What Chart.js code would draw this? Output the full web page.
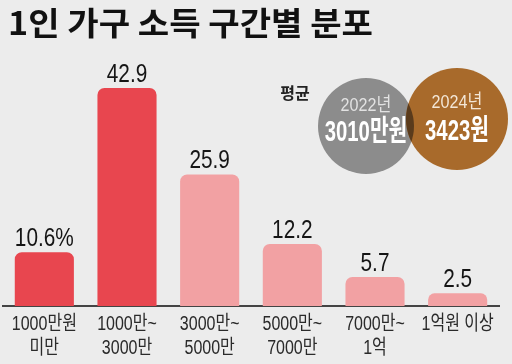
<!DOCTYPE html>
<html>
<head>
<meta charset="utf-8">
<script src="https://cdn.jsdelivr.net/npm/chart.js@4.4.1/dist/chart.umd.min.js"></script>
<style>
  html, body { margin: 0; padding: 0; background: #ececec; }
  #wrap { width: 512px; height: 364px; position: relative; }
</style>
</head>
<body>
<div id="wrap"><canvas id="c"></canvas></div>
<script>
// data
const titleText = '1인 가구 소득 구간별 분포';
const categories = [
  ['1000만원', '미만'],
  ['1000만~', '3000만'],
  ['3000만~', '5000만'],
  ['5000만~', '7000만'],
  ['7000만~', '1억'],
  ['1억원 이상']
];
const shares = [10.6, 42.9, 25.9, 12.2, 5.7, 2.5];
const shareLabels = ['10.6%', '42.9', '25.9', '12.2', '5.7', '2.5'];
const avgTitle = '평균';
const avgYears = ['2022년', '2024년'];
const avgIncome = ['3010만원', '3423원'];

var RED = '#e8464f';
var PINK = '#f2a1a3';
var SANS = "'Liberation Sans', 'Noto Sans CJK KR', sans-serif";

// squeezed text, the original uses a condensed face
function squeezed(ctx, txt, x, y, font, color, sx, base) {
  ctx.save();
  ctx.font = font;
  ctx.fillStyle = color;
  ctx.textAlign = 'center';
  ctx.textBaseline = base || 'middle';
  ctx.translate(x, y);
  ctx.scale(sx, 1);
  ctx.fillText(txt, 0, 0);
  ctx.restore();
}

var extras = {
  id: 'extras',
  afterDraw: function(chart) {
    var ctx = chart.ctx;
    // title
    ctx.save();
    ctx.font = "bold 32px 'Noto Sans CJK KR', sans-serif";
    ctx.fillStyle = '#111';
    ctx.textBaseline = 'middle';
    var w = ctx.measureText(titleText).width;
    ctx.translate(8, 23);
    ctx.scale(365 / w, 1);
    ctx.fillText(titleText, 0, 0);
    ctx.restore();

    // bar values
    var meta = chart.getDatasetMeta(0);
    meta.data.forEach(function(bar, i) {
      squeezed(ctx, shareLabels[i], bar.x, bar.y - 6, '26px ' + SANS, '#151515', 0.8, 'alphabetic');
    });

    // category labels under the axis
    var xs = chart.scales.x;
    var base = chart.chartArea.bottom;
    categories.forEach(function(lines, i) {
      var x = xs.getPixelForTick(i);
      lines.forEach(function(t, j) {
        squeezed(ctx, t, x, base + 18 + j * 24, '20px ' + SANS, '#2a2a2a', 0.8);
      });
    });

    // average circles
    var g = {x: 366, y: 126, r: 48};
    var b = {x: 457, y: 119, r: 51};
    ctx.save();
    ctx.fillStyle = '#8c8c8c';
    ctx.beginPath(); ctx.arc(g.x, g.y, g.r, 0, Math.PI * 2); ctx.fill();
    ctx.fillStyle = '#a86a2b';
    ctx.beginPath(); ctx.arc(b.x, b.y, b.r, 0, Math.PI * 2); ctx.fill();
    ctx.beginPath(); ctx.arc(g.x, g.y, g.r, 0, Math.PI * 2); ctx.clip();
    ctx.fillStyle = '#5a3b1c';
    ctx.beginPath(); ctx.arc(b.x, b.y, b.r, 0, Math.PI * 2); ctx.fill();
    ctx.restore();

    squeezed(ctx, avgTitle, 295, 93, "bold 16px 'Noto Sans CJK KR', sans-serif", '#222', 1);
    squeezed(ctx, avgYears[0], 366, 106, '19px ' + SANS, '#e2e2e2', 0.85);
    squeezed(ctx, avgIncome[0], 366, 133, 'bold 29px ' + SANS, '#ffffff', 0.7);
    squeezed(ctx, avgYears[1], 457, 103, '19px ' + SANS, '#f3e6d6', 0.85);
    squeezed(ctx, avgIncome[1], 457, 132, 'bold 29px ' + SANS, '#ffffff', 0.7);
  }
};

var chart = new Chart(document.getElementById('c'), {
  type: 'bar',
  data: {
    labels: categories,
    datasets: [{
      data: shares,
      backgroundColor: function(c) { return c.dataIndex < 2 ? RED : PINK; },
      borderRadius: 7,
      borderSkipped: 'start',
      barPercentage: 0.715,
      categoryPercentage: 1
    }]
  },
  options: {
    responsive: true,
    maintainAspectRatio: false,
    animation: false,
    layout: { padding: { top: 52, left: 3, right: 13, bottom: 50 } },
    plugins: { legend: { display: false }, title: { display: false }, tooltip: { enabled: false } },
    scales: {
      y: { display: false, min: 0, max: 50 },
      x: {
        grid: { display: false },
        border: { display: true, color: '#444', width: 2 },
        ticks: { display: false }
      }
    }
  },
  plugins: [extras]
});
</script>
</body>
</html>
